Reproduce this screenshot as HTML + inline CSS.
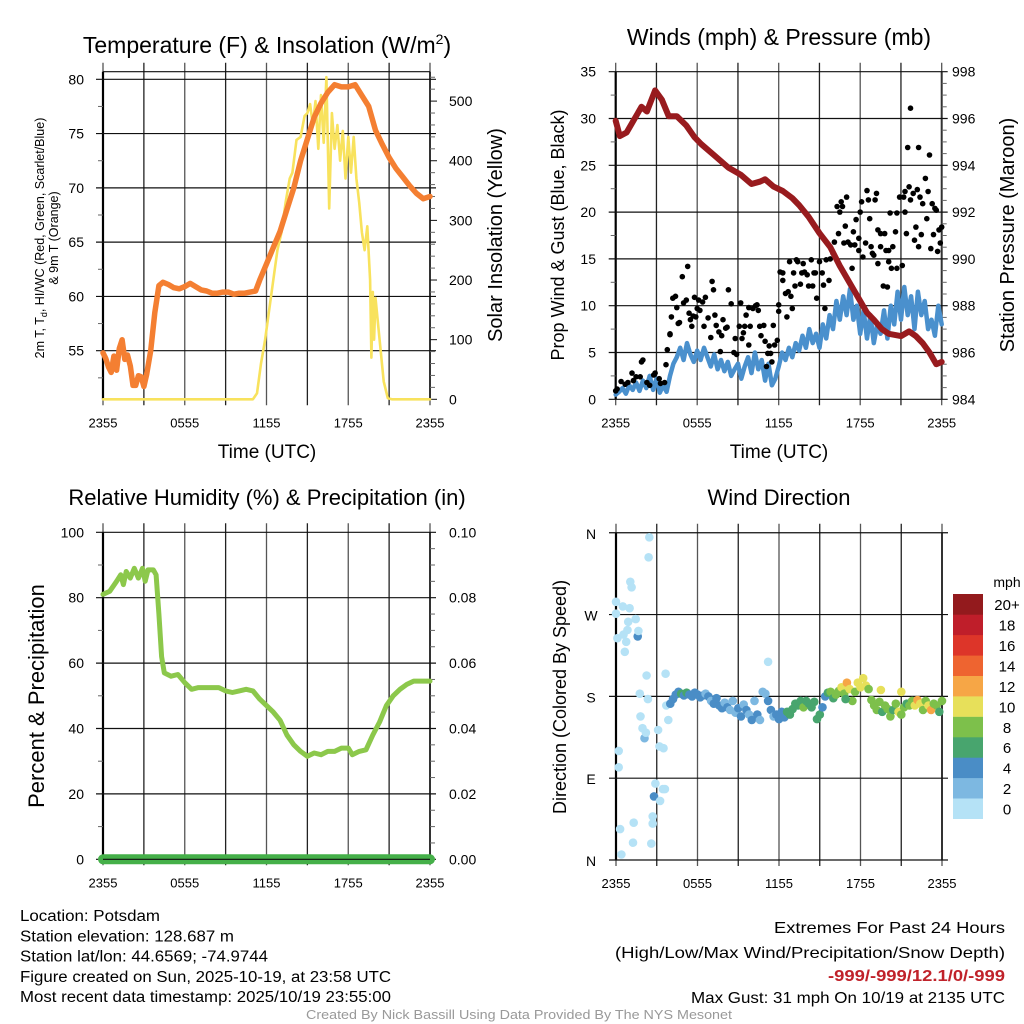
<!DOCTYPE html>
<html><head><meta charset="utf-8"><style>
html,body{margin:0;padding:0;background:#fff;overflow:hidden}
svg{display:block;font-family:"Liberation Sans",sans-serif}
</style></head><body>
<svg id="c" width="1024" height="1024" viewBox="0 0 1024 1024"></svg>
<script>
// ---- data (hours since 2355 previous day) ----
const tempHours=[0,0.2,0.4,0.6,0.8,1.0,1.2,1.4,1.6,1.8,2.0,2.2,2.4,2.6,2.8,3.0,3.2,3.5,3.8,4.1,4.4,4.8,5.2,5.6,6.0,6.4,6.8,7.2,7.6,8.0,8.4,8.8,9.2,9.6,10.0,10.4,10.8,11.2,11.5,12.0,12.5,13.0,13.5,14.0,14.5,15.0,15.5,16.0,16.5,17.0,17.5,18.0,18.5,19.0,19.5,20.0,20.5,21.0,21.5,22.0,22.5,23.0,23.5,24];
const tempValues=[54.8,54.3,53.5,53.0,54.5,53.2,55.2,56.0,54.2,54.6,53.6,51.8,51.8,52.7,52.6,51.7,52.8,55,58.5,61.0,61.3,61.1,60.8,60.7,60.9,61.2,60.9,60.6,60.5,60.3,60.3,60.4,60.4,60.2,60.3,60.3,60.4,60.5,61.5,63,64.5,66,68,70,72.5,74.5,76.5,77.8,78.8,79.5,79.3,79.3,79.5,78.5,77.5,75.3,74,72.8,71.8,71,70.2,69.5,69.0,69.2];
const solarHours=[0,11.0,11.3,11.6,11.9,12.2,12.5,12.8,13.1,13.4,13.7,13.9,14.2,14.5,14.8,15.0,15.2,15.4,15.6,15.8,16.0,16.2,16.4,16.6,16.8,17.0,17.2,17.4,17.6,17.8,18.0,18.2,18.4,18.6,18.8,19.0,19.2,19.4,19.6,19.7,19.8,19.9,20.0,20.3,20.6,20.9,21.2,24];
const solarValues=[0,0,10,60,100,150,200,250,280,330,370,380,435,440,475,480,495,460,500,420,510,430,540,320,480,420,460,400,450,370,440,380,440,370,330,280,250,290,200,70,180,100,170,100,30,2,0,0];
const pressHours=[0,0.3,0.8,1.3,1.9,2.3,2.9,3.4,3.9,4.5,5.2,5.8,6.3,7.3,8.3,9.2,10.0,10.6,11.0,11.6,12.3,13.0,13.5,14.2,15.0,15.8,16.5,17.2,18.0,18.5,19.0,19.6,20.1,21.0,21.6,22.1,22.6,23.1,23.6,24];
const pressValues=[995.9,995.25,995.4,995.9,996.5,996.3,997.2,996.8,996.1,996.1,995.7,995.2,994.9,994.4,993.9,993.6,993.2,993.3,993.4,993.1,992.9,992.6,992.3,991.8,991.1,990.5,989.7,989.0,988.2,987.7,987.4,987.0,986.8,986.7,986.9,986.7,986.4,986.0,985.5,985.6];
const windHours=[];for(let i=0;i<=96;i++)windHours.push(i*0.25);
const windValues=[0.5,0.8,1.2,0.6,1.5,1.0,1.8,0.9,2.0,1.2,2.5,1.0,2.2,0.7,1.5,0.8,
2.5,3.8,4.5,5.5,4.2,6.0,4.8,4.0,5.2,4.2,5.5,4.5,3.5,4.8,3.2,4.2,
3.0,4.0,2.5,3.2,3.8,2.2,3.5,4.5,2.8,5.0,3.2,4.2,2.0,3.8,1.5,2.2,
3.5,5.0,4.2,5.5,4.5,6.0,5.2,6.8,5.5,7.5,6.0,7.0,5.5,8.0,6.5,9.0,
7.5,10.5,8.5,11.0,9.0,11.8,8.5,10.0,7.0,9.5,6.5,9.0,6.0,8.0,7.0,9.5,
6.5,10.0,8.0,11.5,8.5,12.0,9.0,11.0,7.5,11.5,9.0,10.5,7.5,8.5,6.8,10.0,8.0];
const gustHours=[0.0,0.1,0.4,0.7,0.9,1.2,1.3,1.5,1.8,1.9,2.0,2.3,2.5,2.8,2.9,3.2,3.3,3.6,3.7,3.8,4.0,4.0,4.1,4.2,4.4,4.5,4.6,4.7,4.9,5.0,5.2,5.3,5.4,5.5,5.6,5.7,5.8,5.9,6.0,6.1,6.2,6.4,6.5,6.6,6.8,7.0,7.1,7.2,7.3,7.4,7.6,7.7,7.8,7.9,8.1,8.2,8.3,8.5,8.7,8.8,8.9,9.1,9.2,9.3,9.4,9.5,9.6,9.8,9.8,9.9,10.1,10.3,10.4,10.5,10.6,10.7,10.9,11.0,11.1,11.2,11.3,11.4,11.5,11.6,11.7,11.9,12.0,12.0,12.1,12.3,12.3,12.5,12.6,12.7,12.8,12.9,13.0,13.1,13.2,13.3,13.4,13.6,13.7,13.8,13.9,14.1,14.2,14.4,14.5,14.6,14.7,14.8,15.0,15.2,15.3,15.4,15.5,15.7,15.8,16.0,16.1,16.3,16.4,16.5,16.6,16.7,16.8,16.9,17.0,17.1,17.3,17.4,17.5,17.6,17.7,17.9,17.9,18.0,18.1,18.2,18.4,18.5,18.6,18.7,18.8,18.9,19.0,19.1,19.2,19.3,19.3,19.5,19.5,19.7,19.8,19.9,20.0,20.1,20.1,20.2,20.3,20.4,20.6,20.7,20.7,20.9,21.1,21.2,21.3,21.3,21.4,21.5,21.6,21.7,21.7,21.9,22.0,22.1,22.2,22.3,22.3,22.4,22.5,22.6,22.8,22.9,23.0,23.2,23.1,23.3,23.4,23.5,23.6,23.7,23.8,23.9,24.0];
const gustValues=[0.9,1.1,1.9,1.6,1.8,2.8,2.0,2.4,2.4,4.0,4.2,1.8,1.5,2.6,2.8,2.2,1.7,1.8,3.7,5.3,7.0,6.9,8.8,10.8,11.0,9.8,8.1,8.2,13.1,10.3,10.6,14.2,9.2,8.5,7.8,8.9,10.9,8.8,9.7,10.6,9.5,10.4,7.8,10.9,8.7,6.6,12.6,11.7,9.0,7.9,7.2,5.1,6.8,8.5,7.6,7.7,11.7,10.2,5.0,6.5,4.8,7.8,10.3,6.5,7.1,7.8,9.0,9.8,5.8,7.8,9.7,10.0,10.1,9.5,7.8,6.8,7.9,6.2,3.5,4.9,5.7,4.9,4.0,7.9,5.8,6.3,10.1,9.4,13.6,13.5,12.7,11.3,8.8,11.5,14.7,11.0,9.7,13.5,12.1,14.9,14.7,12.3,13.5,14.5,13.6,13.3,12.1,14.9,12.1,13.5,13.5,10.8,14.7,13.5,12.2,9.7,14.9,12.7,15.0,15.6,16.8,20.6,17.7,20.0,21.1,20.6,16.7,18.5,21.6,16.8,16.5,14.0,17.9,16.5,19.2,17.2,15.9,20.0,21.1,15.2,16.7,22.3,21.3,19.3,16.3,15.6,15.4,21.3,22.0,18.1,14.5,16.3,17.7,12.1,17.7,15.9,12.0,14.7,15.9,19.9,14.0,16.3,17.9,19.9,14.0,21.6,14.3,21.6,22.2,20.0,17.7,26.9,22.7,31.1,21.3,22.0,17.0,18.4,22.4,26.9,16.3,21.6,17.6,20.9,23.6,19.3,22.2,16.1,26.1,20.9,17.6,20.4,20.2,15.8,18.1,16.7,18.4];
const rhHours=[0,0.5,1,1.3,1.5,1.7,2.0,2.3,2.6,2.9,3.1,3.3,3.7,3.9,4.1,4.3,4.5,5,5.5,6,6.5,7,7.5,8,8.5,9,9.5,10,10.5,11,11.5,12,12.5,13,13.5,14,14.5,15,15.5,16,16.5,17,17.5,18,18.3,18.8,19.3,19.8,20.3,20.8,21.3,21.8,22.3,22.8,23.5,24];
const rhValues=[81,82,85,87,84,88,86,89,86,89,85,88.5,88.5,87,75,62,57,56,56.5,54,52,52.5,52.5,52.5,52.5,51.5,51,51.5,52,51.5,49,47,45,42.5,38,35,33,31.5,32.5,32,33,33,34,34,32,33,33.5,38,42,47,50,52,53.5,54.5,54.5,54.5];
const precipHours=[0,24];
const precipValues=[0,0];
const dirHours=[0,0.5,1.0,0.1,0.75,0.65,0.55,0.85,0.9,1.45,1.6,1.65,1.05,1.15,2.45,2.4,2.25,1.75,2.35,1.8,1.95,2.1,2.2,3.1,3.2,3.5,3.85,3.7,3.65,0.2,0.2,0.3,0.4,1.3,1.25,2.6,2.7,2.7,2.8,2.9,3.25,3.45,3.6,0,11.2,
4.0,4.2,4.4,4.6,4.8,5.0,5.2,5.4,5.6,5.8,6.0,6.2,6.4,6.6,6.8,7.0,7.2,7.4,7.6,7.8,8.0,8.2,8.4,8.6,8.8,9.0,9.2,9.4,9.6,9.8,10.0,10.2,10.4,10.6,10.8,11.0,11.2,11.4,11.6,11.8,12.0,12.2,12.4,12.6,12.8,13.0,13.2,13.4,13.6,13.8,14.0,14.2,14.4,14.6,14.8,15.0,15.2,15.4,15.6,15.8,16.0,16.2,16.4,16.6,16.8,17.0,17.2,17.4,17.6,17.8,18.0,18.2,18.4,18.6,18.8,19.0,19.2,19.4,19.6,19.8,20.0,20.2,20.4,20.6,20.8,21.0,21.2,21.4,21.6,21.8,22.0,22.2,22.4,22.6,22.8,23.0,23.2,23.4,23.6,23.8,24.0,21.0,19.5,16.9];
const dirValues=[284,279,277,244,240,229,248,253,262,265,246,252,306,300,355,333,203,183,177,158,145,134,140,143,125,123,154,170,205,120,102,34,6,41,19,18,48,40,70,84,65,78,78,271,218,
172,177,182,185,183,181,184,182,180,184,182,179,181,183,180,175,172,178,170,167,173,168,165,175,162,167,158,171,165,160,154,175,160,154,185,183,175,165,158,160,155,163,157,163,160,166,172,170,175,168,175,172,168,174,155,160,168,180,184,185,178,182,186,190,183,195,188,175,185,195,190,200,192,188,176,170,165,174,163,170,166,158,165,172,163,160,168,172,170,175,170,176,172,165,175,170,165,172,170,163,175,185,187,177];
const dirSpeeds=[1,1,1,1,1,1,1,1,1,1,4,1,1,1,1,1,1,1,1,1,1,3,1,1,1,1,1,1,1,1,1,1,1,1,1,1,1,1,4,1,1,1,1,1,1,
4,4,4,4,6,4,6,4,4,4,4,4,4,3,4,3,4,4,4,4,3,4,3,3,3,4,4,3,4,3,4,3,4,2,3,3,4,4,2,4,4,4,4,6,6,6,6,6,6,8,6,6,6,6,6,6,4,4,6,8,6,8,8,10,8,12,10,8,8,10,10,10,10,8,8,8,8,8,6,8,8,8,6,8,10,8,8,6,8,8,10,12,10,8,8,10,12,8,8,6,8,10,10,6];
const speedLabels=["0","2","4","6","8","10","12","14","16","18","20+"];
const speedColors=["#b5e2f6","#7db8e1","#4a8dc6","#48a56e","#7dc04b","#e7e05a","#f6a646","#ee6430","#dd3529","#bf1e2a","#931a1d"];
const xTickLabels=["2355","0555","1155","1755","2355"];
const tempTicks=[55,60,65,70,75,80];
const solarTicks=[0,100,200,300,400,500];
const windTicks=[0,5,10,15,20,25,30,35];
const pressTicks=[984,986,988,990,992,994,996,998];
const rhTicks=[0,20,40,60,80,100];
const precipTicks=["0.00","0.02","0.04","0.06","0.08","0.10"];
const dirLabels=["N","E","S","W","N"];

const NS="http://www.w3.org/2000/svg";
const svg=document.getElementById('c');
function el(tag,attrs,parent,text){const e=document.createElementNS(NS,tag);for(const k in attrs)e.setAttribute(k,attrs[k]);if(text!==undefined)e.textContent=text;(parent||svg).appendChild(e);return e;}
function grp(name){const g=el('g',{},svg);return g;}
function txt(g,x,y,s,size,anchor,extra,name){const t=el('text',Object.assign({x:x,y:y,'font-size':size,'text-anchor':anchor||'middle'},extra||{}),g,s);return t;}

function panel(name,x0,x1,y0,y1){
  const g=grp(name);
  const xs=h=>x0+(x1-x0)*h/24;
  for(let i=0;i<=8;i++){const x=xs(i*3);const l=el('line',{x1:x,x2:x,y1:y0-9,y2:y1+6,stroke:i%2?'#222':'#555','stroke-width':1.3},g);}
  el('line',{x1:x0,x2:x0,y1:y0,y2:y1,stroke:'#000','stroke-width':2.2},g);
  el('line',{x1:x1,x2:x1,y1:y0,y2:y1,stroke:'#333','stroke-width':2},g);
  for(let i=0;i<5;i++){txt(g,xs(i*6),y1+28,xTickLabels[i],13,'middle',{},'x-tick-label');}
  return {g,xs};
}
function hline(g,x0,x1,y,name){const l=el('line',{x1:x0-7,x2:x1+6,y1:y,y2:y,stroke:'#111','stroke-width':1.2},g);}
function minor(g,x,y,dir){el('line',{x1:x,x2:x+dir*5,y1:y,y2:y,stroke:'#666','stroke-width':1},g);}
function path(g,xs,ys,hs,vs,color,w,name){let d='';for(let i=0;i<hs.length;i++){d+=(i?'L':'M')+xs(hs[i]).toFixed(1)+' '+ys(vs[i]).toFixed(1);}const p=el('path',{d:d,fill:'none',stroke:color,'stroke-width':w,'stroke-linejoin':'round','stroke-linecap':'round'},g);return p;}

// ---------- Panel 1: Temperature ----------
{
 const x0=103,x1=430,y0=71.7,y1=399.3;
 const {g,xs}=panel('temperature-panel',x0,x1,y0,y1);
 const yt=v=>79.3+(80-v)*10.856, ys=v=>399.3-v*0.5964;
 el('line',{x1:x0,x2:x1,y1:y0,y2:y0,stroke:'#111','stroke-width':1.2},g);
 tempTicks.forEach(v=>{hline(g,x0,x1,yt(v),'temp-gridline');txt(g,84,yt(v)+5,String(v),14,'end',{},'temp-tick-label');});
 for(let v=52.5;v<80;v+=5)minor(g,x0,yt(v),-1);
 for(let v=0;v<=540;v+=20){if(v%100)minor(g,x1,ys(v),1);else el('line',{x1:x1,x2:x1+7,y1:ys(v),y2:ys(v),stroke:'#111'},g);}
 solarTicks.forEach(v=>txt(g,449,ys(v)+5,String(v),14,'start',{},'solar-tick-label'));
 path(g,xs,ys,solarHours,solarValues,'#f8e25d',2.6,'solar-insolation-line');
 path(g,xs,yt,tempHours,tempValues,'#f47f32',5.5,'temperature-9m-line');
 const t=txt(g,267,53,'',23,'middle',{},'temperature-title');
 t.appendChild(document.createTextNode('Temperature (F) & Insolation (W/m'));
 el('tspan',{dy:-9,'font-size':14},t,'2');
 el('tspan',{dy:9},t,')');
 txt(g,267,458,'Time (UTC)',19,'middle',{},'x-axis-title');
 const yl=txt(g,0,0,'',12.5,'middle',{transform:'translate(44,238) rotate(-90)'},'temperature-y-axis-title');
 yl.appendChild(document.createTextNode('2m T, T'));el('tspan',{dy:3,'font-size':9},yl,'d');el('tspan',{dy:-3},yl,', HI/WC (Red, Green, Scarlet/Blue)');
 txt(g,0,0,'& 9m T (Orange)',12.5,'middle',{transform:'translate(58,238) rotate(-90)'},'temperature-y-axis-title-line2');
 txt(g,0,0,'Solar Insolation (Yellow)',20,'middle',{transform:'translate(502,235) rotate(-90)'},'solar-y-axis-title');
}
// ---------- Panel 2: Winds ----------
{
 const x0=615.7,x1=941.7,y0=71.7,y1=399.3;
 const {g,xs}=panel('winds-panel',x0,x1,y0,y1);
 const yw=v=>399.3-v*9.36, yp=v=>71.7+(998-v)*23.4;
 windTicks.forEach(v=>{hline(g,x0,x1,yw(v),'wind-gridline');txt(g,596,yw(v)+5,String(v),14,'end',{},'wind-tick-label');});
 for(let v=2.5;v<35;v+=5)minor(g,x0,yw(v),-1);
 for(let v=984.5;v<998;v+=0.5){if((v*2)%4)minor(g,x1,yp(v),1);}
 pressTicks.forEach(v=>txt(g,952,yp(v)+5,String(v),14,'start',{},'pressure-tick-label'));
 path(g,xs,yw,windHours,windValues,'#4a90cd',4.5,'sustained-wind-line');
 gustHours.forEach((h,i)=>{const c=el('circle',{cx:xs(h).toFixed(1),cy:yw(gustValues[i]).toFixed(1),r:2.8,fill:'#000'},g);});
 path(g,xs,yp,pressHours,pressValues,'#981b1e',6,'pressure-line');
 txt(g,779,45,'Winds (mph) & Pressure (mb)',23,'middle',{},'winds-title');
 txt(g,779,458,'Time (UTC)',19,'middle',{},'x-axis-title');
 txt(g,0,0,'Prop Wind & Gust (Blue, Black)',18,'middle',{transform:'translate(564,235) rotate(-90)'},'wind-y-axis-title');
 txt(g,0,0,'Station Pressure (Maroon)',20,'middle',{transform:'translate(1014,235) rotate(-90)'},'pressure-y-axis-title');
}
// ---------- Panel 3: RH ----------
{
 const x0=103,x1=430,y0=532.3,y1=859.3;
 const {g,xs}=panel('humidity-panel',x0,x1,y0,y1);
 const yr=v=>859.3-v*3.27, yq=v=>859.3-v*3270;
 rhTicks.forEach(v=>{hline(g,x0,x1,yr(v),'rh-gridline');txt(g,84,yr(v)+5,String(v),14,'end',{},'rh-tick-label');});
 for(let v=10;v<100;v+=20)minor(g,x0,yr(v),-1);
 for(let v=5;v<100;v+=5)if(v%20)minor(g,x1,yr(v),1);
 precipTicks.forEach((s,i)=>txt(g,449,yr(i*20)+5,s,14,'start',{},'precip-tick-label'));
 path(g,xs,yr,rhHours,rhValues,'#8cc84b',5,'relative-humidity-line');
 path(g,xs,yq,precipHours,precipValues,'#45b049',10,'precipitation-line');
 el('line',{x1:x0,x2:x1,y1:y1,y2:y1,stroke:'#111','stroke-width':1.2},g);
 txt(g,267,505,'Relative Humidity (%) & Precipitation (in)',22,'middle',{},'humidity-title');
 txt(g,0,0,'Percent & Precipitation',22,'middle',{transform:'translate(44,696) rotate(-90)'},'rh-y-axis-title');
}
// ---------- Panel 4: Wind direction ----------
{
 const x0=616,x1=942,y0=532.7,y1=860;
 const {g,xs}=panel('wind-direction-panel',x0,x1,y0,y1);
 const yd=v=>860-v*0.909;
 dirLabels.forEach((s,i)=>{hline(g,x0,x1,yd(i*90),'direction-gridline');txt(g,591,yd(i*90)+6,s,14,'middle',{},'direction-tick-label');});
 dirHours.forEach((h,i)=>{const ci=Math.min(10,Math.floor(dirSpeeds[i]/2));const c=el('circle',{cx:xs(h).toFixed(1),cy:yd(dirValues[i]).toFixed(1),r:4.3,fill:speedColors[ci]},g);});
 txt(g,779,505,'Wind Direction',22,'middle',{},'wind-direction-title');
 txt(g,0,0,'Direction (Colored By Speed)',18,'middle',{transform:'translate(566,697) rotate(-90)'},'direction-y-axis-title');
 const lg=grp('speed-colorbar');
 const bh=(818.7-594)/11;
 for(let i=0;i<11;i++){const y=818.7-(i+1)*bh;const r=el('rect',{x:953,y:y.toFixed(1),width:30,height:(bh+0.3).toFixed(1),fill:speedColors[i]},lg);txt(lg,1007,y+bh/2+6,speedLabels[i],15,'middle',{},'colorbar-label');}
 txt(lg,1007,587,'mph',14,'middle',{},'colorbar-title');
}
// ---------- Footer text ----------
{
 const g=grp('footer-info');
 const left=[["Location: Potsdam",140],["Station elevation: 128.687 m",214],["Station lat/lon: 44.6569; -74.9744",248],["Figure created on Sun, 2025-10-19, at 23:58 UTC",371],["Most recent data timestamp: 2025/10/19 23:55:00",371]];
 left.forEach((a,i)=>txt(g,20,921+i*20.3,a[0],15.5,'start',{textLength:a[1],lengthAdjust:'spacingAndGlyphs'},'station-info-line'));
 txt(g,1005,933,'Extremes For Past 24 Hours',16,'end',{textLength:231,lengthAdjust:'spacingAndGlyphs'},'extremes-heading');
 txt(g,1005,958,'(High/Low/Max Wind/Precipitation/Snow Depth)',16,'end',{textLength:390,lengthAdjust:'spacingAndGlyphs'},'extremes-subheading');
 txt(g,1005,981,'-999/-999/12.1/0/-999',16,'end',{fill:'#c0222a','font-weight':'bold',textLength:177,lengthAdjust:'spacingAndGlyphs'},'extremes-values');
 txt(g,1005,1003,'Max Gust: 31 mph On 10/19 at 2135 UTC',16,'end',{textLength:314,lengthAdjust:'spacingAndGlyphs'},'max-gust-line');
 txt(g,519,1019,'Created By Nick Bassill Using Data Provided By The NYS Mesonet',12.5,'middle',{fill:'#999',textLength:426,lengthAdjust:'spacingAndGlyphs'},'credit-line');
}
</script>
</body></html>
